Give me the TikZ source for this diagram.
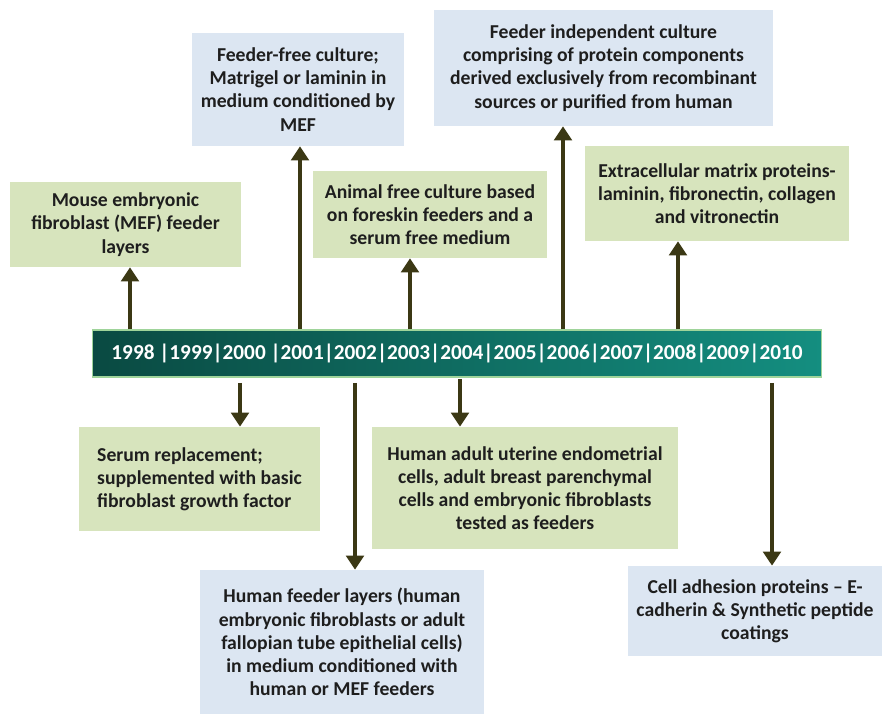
\documentclass[tikz,border=0pt]{standalone}
\usepackage{fontspec}
\setmainfont{Carlito}
\usetikzlibrary{arrows.meta}
\definecolor{boxgreen}{HTML}{D7E4BD}
\definecolor{boxblue}{HTML}{DCE6F2}
\definecolor{arrowdark}{HTML}{3B3814}
\definecolor{bardark}{HTML}{0A4A42}
\definecolor{barlight}{HTML}{148E80}
\definecolor{barrim}{HTML}{9FD49A}
\definecolor{txtdark}{HTML}{1E1E1E}
\tikzset{
  greenbox/.style={fill=boxgreen, inner sep=0pt, align=center, text=txtdark,
    font=\bfseries\fontsize{11.2}{13.2}\selectfont},
  bluebox/.style={greenbox, fill=boxblue},
  yearbar/.style={draw=barrim, line width=0.6pt, left color=bardark, right color=barlight,
    minimum width=14.6cm, minimum height=0.94cm, inner sep=0pt, text=white,
    font=\bfseries\fontsize{12.1}{14}\selectfont},
  uparrow/.style={-{Triangle[width=10pt,length=8pt]}, line width=2.2pt, color=arrowdark},
}
\begin{document}
\begin{tikzpicture}[x=0.02cm, y=-0.02cm]
		\useasboundingbox (0,0) rectangle (887,715);

		\node[yearbar] (bar) at (457,353.5) {1998 |1999|2000 |2001|2002|2003|2004|2005|2006|2007|2008|2009|2010};

		\coordinate (t1998) at (130,0);
		\coordinate (t2000) at (240,0);
		\coordinate (t2001) at (300,0);
		\coordinate (t2002) at (355,0);
		\coordinate (t2003) at (410,0);
		\coordinate (t2004) at (460,0);
		\coordinate (t2006) at (563,0);
		\coordinate (t2008) at (678,0);
		\coordinate (t2010) at (772,0);

		\node[greenbox, minimum width=4.62cm, minimum height=1.70cm] (mef) at (125.5,224.5) {Mouse embryonic\\fibroblast (MEF) feeder\\layers};
		\node[bluebox, minimum width=4.24cm, minimum height=2.26cm] (feederfree) at (298,89.5) {Feeder-free culture;\\Matrigel or laminin in\\medium conditioned by\\MEF};
		\node[greenbox, minimum width=4.68cm, minimum height=1.74cm] (animalfree) at (430,214.5) {Animal free culture based\\on foreskin feeders and a\\serum free medium};
		\node[bluebox, minimum width=6.78cm, minimum height=2.32cm] (independent) at (603.5,68) {Feeder independent culture\\comprising of protein components\\derived exclusively from recombinant\\sources or purified from human};
		\node[greenbox, minimum width=5.28cm, minimum height=1.90cm] (matrix) at (717,193.5) {Extracellular matrix proteins-\\laminin, fibronectin, collagen\\and vitronectin};

		\node[greenbox, align=left, minimum width=4.82cm, minimum height=2.08cm] (serum) at (199.5,479) {Serum replacement;\\supplemented with basic\\fibroblast growth factor};
		\node[greenbox, minimum width=6.12cm, minimum height=2.44cm] (uterine) at (525,488) {Human adult uterine endometrial\\cells, adult breast parenchymal\\cells and embryonic fibroblasts\\tested as feeders};
		\node[bluebox, minimum width=5.68cm, minimum height=2.88cm] (humanfeeder) at (342,642) {Human feeder layers (human\\embryonic fibroblasts or adult\\fallopian tube epithelial cells)\\in medium conditioned with\\human or MEF feeders};
		\node[bluebox, minimum width=5.08cm, minimum height=1.80cm] (adhesion) at (755,611) {Cell adhesion proteins -- E-\\cadherin \& Synthetic peptide\\coatings};

		\draw[uparrow] (bar.north -| t1998) -- (mef.south -| t1998);
		\draw[uparrow] (bar.north -| t2001) -- (feederfree.south -| t2001);
		\draw[uparrow] (bar.north -| t2003) -- (animalfree.south -| t2003);
		\draw[uparrow] (bar.north -| t2006) -- (independent.south -| t2006);
		\draw[uparrow] (bar.north -| t2008) -- (matrix.south -| t2008);

		\draw[uparrow] ([yshift=-3pt]bar.south -| t2000) -- (serum.north -| t2000);
		\draw[uparrow] ([yshift=-3pt]bar.south -| t2002) -- (humanfeeder.north -| t2002);
		\draw[uparrow] ([yshift=-1pt]bar.south -| t2004) -- (uterine.north -| t2004);
		\draw[uparrow] ([yshift=-3pt]bar.south -| t2010) -- (adhesion.north -| t2010);

	\end{tikzpicture}
\end{document}
